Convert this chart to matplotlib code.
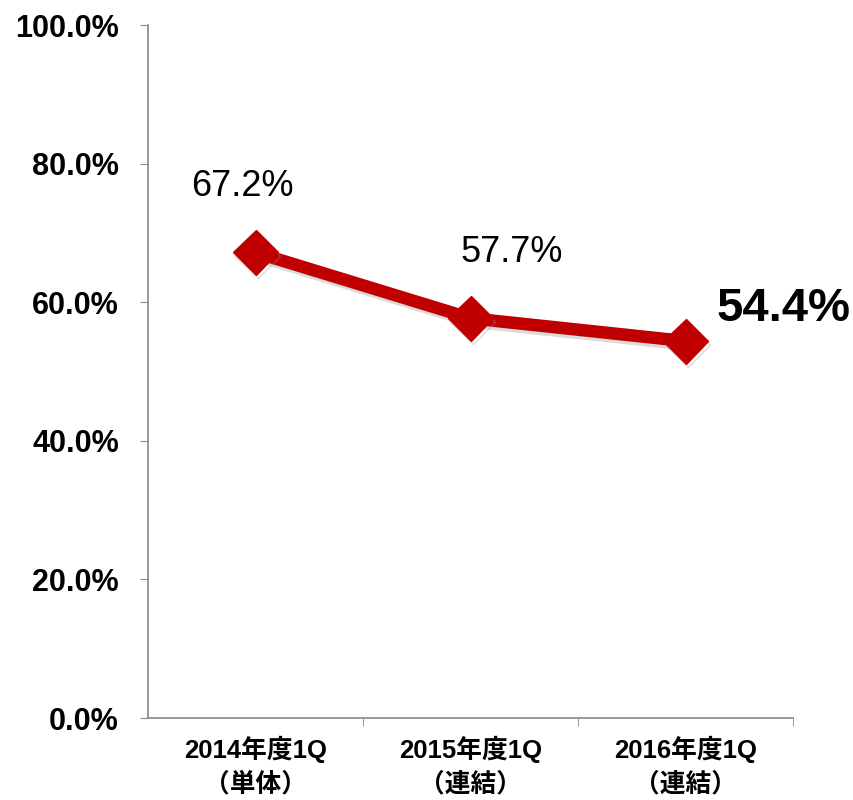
import matplotlib.pyplot as plt
import matplotlib.patheffects as pe
from matplotlib.ticker import FixedLocator, FuncFormatter

categories = ["2014年度1Q\n（単体）", "2015年度1Q\n（連結）", "2016年度1Q\n（連結）"]
values = [67.2, 57.7, 54.4]
yticks = [0, 20, 40, 60, 80, 100]

plt.rcParams['font.family'] = ['Liberation Sans', 'Noto Sans CJK JP', 'DejaVu Sans']

fig = plt.figure(figsize=(8.54, 8.0), dpi=100)
ax = fig.add_axes([0.1733, 0.1025, 0.7553, 0.866])

x = list(range(len(values)))
shadow = [pe.SimpleLineShadow(offset=(1.5, -2.5), shadow_color='#999999', alpha=0.35), pe.Normal()]
ax.plot(x, values, color='#C00000', lw=9, marker='D', markersize=23,
        markeredgecolor='#C00000', solid_joinstyle='round', path_effects=shadow, zorder=3)

# data labels
ax.text(x[0] - 0.06, values[0] + 9.5, "67.2%", ha='center', va='center', fontsize=26)
ax.text(x[1] + 0.19, values[1] + 9.5, "57.7%", ha='center', va='center', fontsize=26)
ax.text(x[2] + 0.455, values[2] + 4.6, "54.4%", ha='center', va='center', fontsize=34,
        fontweight='bold')

ax.set_xlim(-0.5, 2.5)
ax.set_ylim(0, 100)
ax.set_yticks(yticks)
ax.yaxis.set_major_formatter(FuncFormatter(lambda v, p: f"{v:.1f}%"))
ax.set_xticks(x)
ax.set_xticklabels(categories, fontsize=18.5, fontweight='bold', linespacing=1.45)
ax.xaxis.set_minor_locator(FixedLocator([0.5, 1.5, 2.5]))
ax.tick_params(axis='x', which='major', length=0, pad=13)
ax.tick_params(axis='x', which='minor', length=6, color='#888888', direction='out')
ax.tick_params(axis='y', length=6, color='#888888', labelsize=22, pad=15)
for lbl in ax.get_yticklabels():
    lbl.set_fontweight('bold')

for s in ['top', 'right']:
    ax.spines[s].set_visible(False)
for s in ['left', 'bottom']:
    ax.spines[s].set_color('#888888')
    ax.spines[s].set_linewidth(1.2)

fig.savefig("out.png", dpi=100)
